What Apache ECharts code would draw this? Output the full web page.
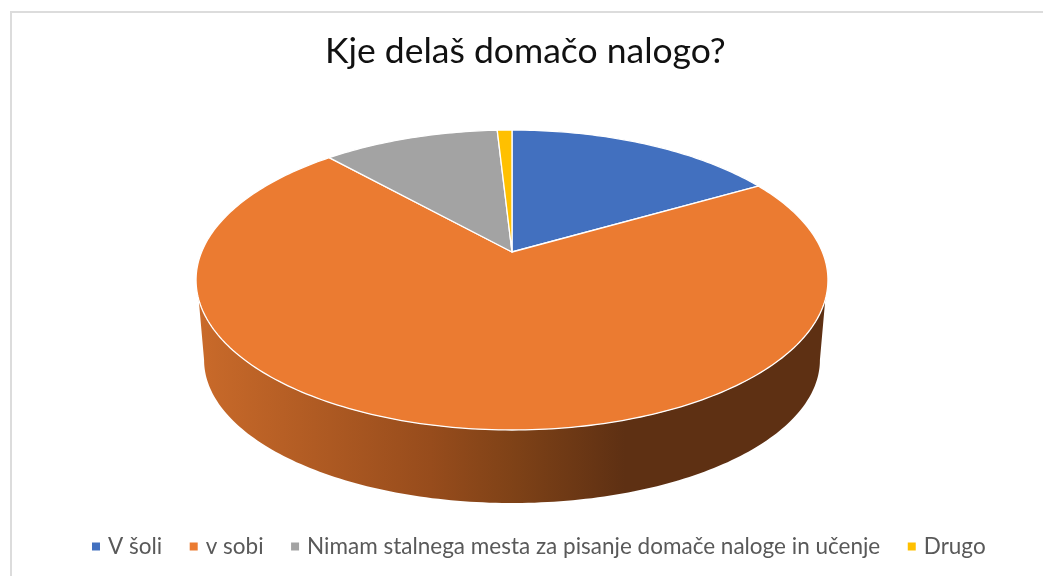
<!DOCTYPE html>
<html>
<head>
<meta charset="utf-8">
<title>Kje delaš domačo nalogo?</title>
<script src="https://cdn.jsdelivr.net/npm/echarts@6/dist/echarts.min.js"></script>
<style>
	html, body { margin: 0; padding: 0; background: #fff; }
	#chart { width: 1043px; height: 576px; }
</style>
</head>
<body>
<div id="chart"></div>
<script>
	var chartTitle = 'Kje delaš domačo nalogo?';
	var categories = ['V šoli', 'v sobi', 'Nimam stalnega mesta za pisanje domače naloge in učenje', 'Drugo'];
	var values = [16.7, 71.6, 10.8, 0.9];
	var colors = ['#4270BF', '#EB7B31', '#A3A3A3', '#FFC000'];

	// the disc is a tilted circle, so it goes through a small perspective mapping
	var persp = -0.1867;
	var topDisc = { cx: 512, a: 97.7, b: 252, k: 310.4 };
	var bottomDisc = { cx: 512, a: 75.8, b: 333.3, k: 302.5 };
	var total = values.reduce(function (s, v) { return s + v; }, 0);

	function project(disc, deg) {
		var r = deg * Math.PI / 180;
		var u = Math.sin(r), v = -Math.cos(r);
		var w = 1 + persp * v;
		return [disc.cx + disc.k * u / w, (disc.a * v + disc.b) / w];
	}

	function arc(disc, from, to) {
		var pts = [];
		var n = Math.max(2, Math.ceil(Math.abs(to - from)));
		for (var i = 0; i <= n; i++) {
			pts.push(project(disc, from + (to - from) * i / n));
		}
		return pts;
	}

	function renderSlice(params, api) {
		var idx = params.seriesIndex;
		var start = 0;
		for (var i = 0; i < idx; i++) start += values[i] / total * 360;
		var end = start + api.value(0) / total * 360;
		var children = [];
		// only the big orange slice shows its side wall
		if (idx === 1) {
			children.push({
				type: 'polygon',
				shape: { points: arc(topDisc, 252, 108).concat(arc(bottomDisc, 100.8, 259.2)) },
				style: {
					fill: new echarts.graphic.LinearGradient(0, 0, 1, 0, [
						{ offset: 0, color: '#C96A2A' },
						{ offset: 0.37, color: '#974C1C' },
						{ offset: 0.5, color: '#7F4217' },
						{ offset: 0.68, color: '#5E3013' },
						{ offset: 1, color: '#5E3013' }
					])
				}
			});
		}
		children.push({
			type: 'polygon',
			shape: { points: [[topDisc.cx, topDisc.b]].concat(arc(topDisc, start, end)) },
			style: { fill: colors[idx], stroke: '#fff', lineWidth: 1.3, lineJoin: 'round' }
		});
		return { type: 'group', children: children };
	}

	var myChart = echarts.init(document.getElementById('chart'));
	var option = {
		animation: false,
		title: {
			text: chartTitle,
			left: 325,
			top: 29,
			padding: [5, 0, 5, 0],
			textStyle: {
				fontFamily: 'Lato',
				fontSize: 35.5,
				fontWeight: 'normal',
				color: '#111'
			}
		},
		legend: {
			data: categories,
			left: 92,
			top: 535,
			padding: 0,
			icon: 'rect',
			itemWidth: 8,
			itemHeight: 8,
			itemGap: 27.5,
			selectedMode: false,
			textStyle: {
				fontFamily: 'Lato',
				fontSize: 22.5,
				color: '#595959',
				padding: [0, 0, 0, 3]
			}
		},
		graphic: [{
			type: 'rect',
			silent: true,
			shape: { x: 11, y: 12, width: 1100, height: 640 },
			style: { fill: 'none', stroke: '#dcdcdc', lineWidth: 2 }
		}],
		series: categories.map(function (name, i) {
			return {
				type: 'custom',
				name: name,
				coordinateSystem: 'none',
				itemStyle: { color: colors[i] },
				data: [values[i]],
				renderItem: renderSlice
			};
		})
	};
	myChart.setOption(option);
</script>
</body>
</html>
